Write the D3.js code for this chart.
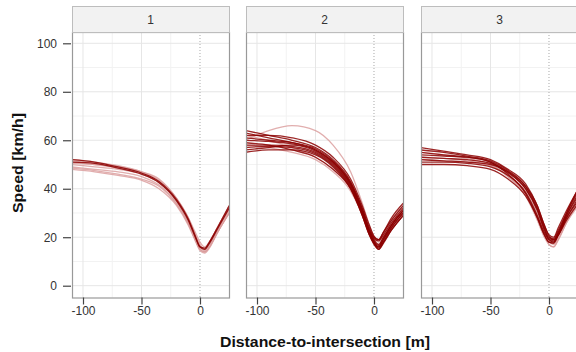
<!DOCTYPE html>
<html><head><meta charset="utf-8">
<script src="https://cdn.jsdelivr.net/npm/d3@7"></script>
<style>body{margin:0;background:#fff;}svg{display:block;font-family:"Liberation Sans",Arial,sans-serif;}</style>
</head><body><svg id="c" width="576" height="352"></svg>
<script>
// Distance positions (m) at which speeds were read
const distances = [-110,-90,-70,-50,-35,-20,-10,-4,0,4,8,15,25];
const panels = ["1","2","3"];
const xTicks = [-100,-50,0];
const yTicks = [0,20,40,60,80,100];

// Panel 1 series (speed km/h); "strong" flags mark the darker traces
const p1 = [
  [52,51,49.5,47,44,36,28,21,17,15,18,24,33],
  [51.5,50.5,49,46.5,43,35,27,20,16,15,17,23,32],
  [50,49,48,46,42.5,35,26,19,15.5,14.5,17,23,31],
  [49,48,47,45,41.5,34,26,19,15,14,16,22,30],
  [48.5,47.5,46,44,41,33.5,25.5,19,15,14,16,22,30],
  [51,50,49,47,43.5,36,28,22,18,16,18,24,33],
  [50.5,50,48.5,46.5,43,35.5,27,20.5,16.5,15,17.5,24,32],
  [48,47,45.5,43.5,40,33,25,18.5,14.5,13.5,15.5,22,30],
  [52,51,49,46.5,43,35.5,27.5,20.5,16,15.5,18,24,33],
  [51,50.5,48.5,46,42.5,35,27,20,16,15,17.5,23.5,32]
];
const p1strong = [0,0,0,0,0,0,0,0,1,1];

const p2 = [
  [60,64,66,64,58,47,34,25,20,18,21,27,33],
  [58,57,55,52,47,39,29,21,17.5,16,19,25,31],
  [62,60,57,53,48,40,30,22,18,17,20,26,32],
  [64,62,60,57,52,43,32,24,20,19,22,27,33],
  [63,61,59,56,51,42,31,23,19.5,18.5,21,26,32],
  [61,60,59,56.5,51.5,42.5,31.5,23,19,17,20,25,31],
  [60,59.5,58.5,56,51,42,30.5,22,18,16,19,24,30],
  [58,58,57.5,55,50,41,30,22,18,15.5,18,23,29],
  [57,57.5,57,54.5,49.5,40.5,29.5,21.5,17.5,15,17.5,23,29],
  [55,56,56,54,49,40,29,21,17,15,18,24,30],
  [59,58,56,53,48,40,29,21,17.5,16,19,25,31],
  [62,62,61,58,53,44,33,25,20.5,19,22,28,34],
  [56,57,58,55.5,50.5,41.5,30.5,22.5,18.5,16.5,19.5,25,31]
];
const p2strong = [0,0,0,1,1,1,1,1,1,1,1,1,1];

const p3 = [
  [53,52.5,51.5,49.5,45,38,29,22,18.5,17,20,27,35],
  [55,54,52.5,50,45,37,27,20,17,16,19,26,34],
  [52,51.5,51,49.5,45.5,39,30,21.5,17,16,19,26,33],
  [57,55.5,54,52,48,42,33,25,21,20,24,31,40],
  [56,55,53.5,51.5,47.5,41,32,24,20,19.5,23,30,39],
  [54,53.5,53,51,47,40,31,23,19.5,19,22,29,37],
  [53,52.5,52,50.5,47,41,33,25,20.5,19,21,27,34],
  [52,51.5,51,50,46.5,40,31.5,23.5,19,18.5,21,28,35],
  [51,51,50.5,49,45.5,38.5,29,22,19,18,21,29,38],
  [50,50,49.5,48,44,37,28,21,18,18,22,30,40],
  [55,54,53,51,46,38,28,21,18,17.5,21,28,36]
];
const p3strong = [0,0,0,1,1,1,1,1,1,1,1];

const series = [p1,p2,p3];
const strong = [p1strong,p2strong,p3strong];

const svg = d3.select("#c");
const panelW = 157, panelH = 265.5, plotTop = 32, stripH = 26;
const lefts = [72, 246, 421];

const x = d3.scaleLinear().domain([-109.4, 24.8]).range([0, panelW]);
const y = d3.scaleLinear().domain([0, 100]).range([285.7 - plotTop, 43.3 - plotTop]);

const line = d3.line().x((d,i)=>x(distances[i])).y(d=>y(d)).curve(d3.curveMonotoneX);
const fmt = d => String(d);

panels.forEach((p, k) => {
  const g = svg.append("g").attr("transform", `translate(${lefts[k]},${plotTop})`);
  // strip
  svg.append("rect").attr("x", lefts[k]+0.5).attr("y", plotTop-stripH+0.5).attr("width", panelW).attr("height", stripH)
    .attr("fill", "#f2f2f2").attr("stroke", "#bdbdbd");
  svg.append("text").attr("x", lefts[k]+panelW/2).attr("y", plotTop-stripH/2+4.5).attr("text-anchor","middle")
    .attr("font-size", 12).attr("fill", "#333").text(p);
  // minor grid
  const xMinor = [-75,-25];
  const yMinor = [10,30,50,70,90];
  g.selectAll(".xm").data(xMinor).join("line").attr("x1",d=>x(d)).attr("x2",d=>x(d)).attr("y1",0).attr("y2",panelH)
    .attr("stroke","#f2f2f2").attr("stroke-width",1);
  g.selectAll(".ym").data(yMinor).join("line").attr("y1",d=>y(d)).attr("y2",d=>y(d)).attr("x1",0).attr("x2",panelW)
    .attr("stroke","#f2f2f2").attr("stroke-width",1);
  // major grid
  g.selectAll(".xg").data([-100,-50]).join("line").attr("x1",d=>x(d)).attr("x2",d=>x(d)).attr("y1",0).attr("y2",panelH)
    .attr("stroke","#e6e6e6").attr("stroke-width",1);
  g.selectAll(".yg").data(yTicks).join("line").attr("y1",d=>y(d)).attr("y2",d=>y(d)).attr("x1",0).attr("x2",panelW)
    .attr("stroke","#e6e6e6").attr("stroke-width",1);
  // zero reference dotted
  g.append("line").attr("x1",x(0)).attr("x2",x(0)).attr("y1",0).attr("y2",panelH)
    .attr("stroke","#a8a8a8").attr("stroke-width",1).attr("stroke-dasharray","1,2");
  // lines
  const clipId = "clip"+k;
  g.append("clipPath").attr("id",clipId).append("rect").attr("width",panelW).attr("height",panelH);
  const lg = g.append("g").attr("clip-path",`url(#${clipId})`);
  const order = series[k].map((s,i)=>i).sort((a,b)=>strong[k][a]-strong[k][b]);
  order.forEach(i => {
    const st = strong[k][i];
    lg.append("path").attr("d", line(series[k][i])).attr("fill","none")
      .attr("stroke", st ? "#8b0000" : "#d99a9a")
      .attr("stroke-opacity", st ? 0.85 : 0.8)
      .attr("stroke-width", 1.3);
  });
  // border
  g.append("rect").attr("x",0.5).attr("y",0.5).attr("width",panelW).attr("height",panelH)
    .attr("fill","none").attr("stroke","#999").attr("stroke-width",1.2);
  // x axis
  const xa = g.append("g").attr("transform",`translate(0,${panelH})`)
    .call(d3.axisBottom(x).tickValues(xTicks).tickSize(7).tickPadding(2).tickFormat(fmt));
  xa.select(".domain").remove();
  xa.selectAll("line").attr("stroke","#444").attr("stroke-width",1.2);
  xa.selectAll("text").attr("font-size",12).attr("fill","#333").attr("font-family","Liberation Sans, Arial, sans-serif");
  if (k === 0) {
    const ya = g.append("g").call(d3.axisLeft(y).tickValues(yTicks).tickSize(8).tickPadding(6).tickFormat(fmt));
    ya.select(".domain").remove();
    ya.attr("transform","translate(-1,0)");
    ya.selectAll("line").attr("stroke","#444").attr("stroke-width",1.2);
    ya.selectAll("text").attr("font-size",12).attr("fill","#333").attr("font-family","Liberation Sans, Arial, sans-serif");
  }
});

svg.append("text").attr("x", 325).attr("y", 347).attr("text-anchor","middle")
  .attr("font-size",15.5).attr("font-weight","bold").attr("fill","#111")
  .attr("textLength",210).attr("lengthAdjust","spacingAndGlyphs").text("Distance-to-intersection [m]");
svg.append("text").attr("transform","translate(23,163) rotate(-90)").attr("text-anchor","middle")
  .attr("font-size",14.5).attr("font-weight","bold").attr("fill","#111")
  .attr("textLength",100).attr("lengthAdjust","spacingAndGlyphs").text("Speed [km/h]");
</script></body></html>
